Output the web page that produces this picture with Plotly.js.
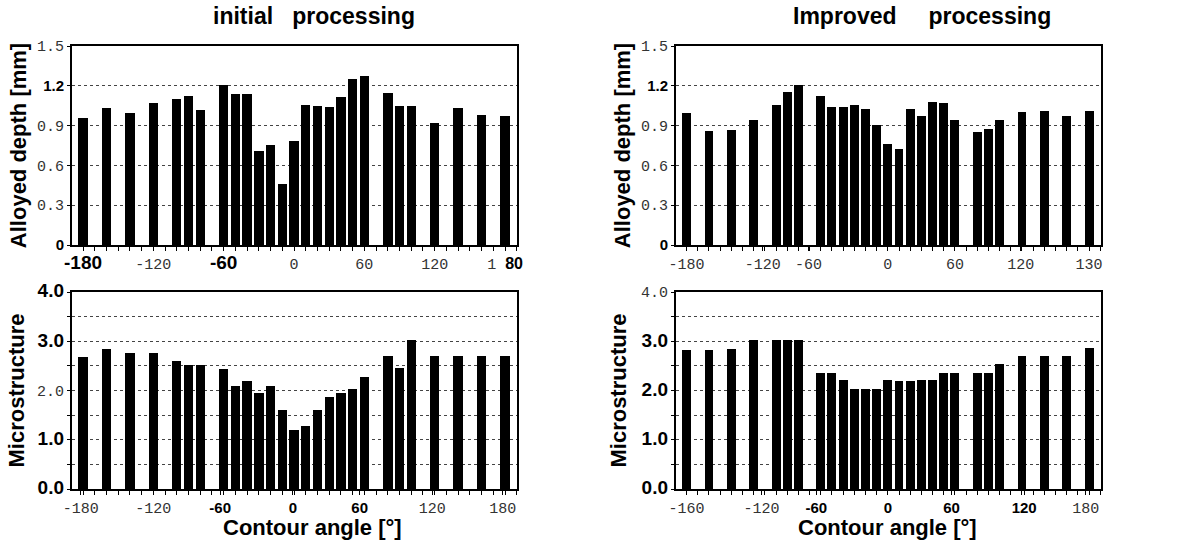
<!DOCTYPE html>
<html>
<head>
<meta charset="utf-8">
<script src="https://cdn.plot.ly/plotly-3.0.1.min.js"></script>
<style>html,body{margin:0;padding:0;background:#fff;}#chart{width:1177px;height:546px;}</style>
</head>
<body>
<div id="chart"></div>
<script>
// ---- data ----
const angles = [-180,-160,-140,-120,-100,-90,-80,-60,-50,-40,-30,-20,-10,0,10,20,30,40,50,60,80,90,100,120,140,160,180];
const depthInitial  = [0.96,1.035,0.995,1.07,1.10,1.12,1.02,1.205,1.14,1.14,0.705,0.754,0.457,0.787,1.058,1.046,1.038,1.117,1.249,1.277,1.147,1.051,1.051,0.919,1.033,0.982,0.972];
const microInitial  = [2.685,2.84,2.77,2.77,2.59,2.52,2.52,2.44,2.10,2.20,1.94,2.10,1.61,1.19,1.27,1.61,1.86,1.94,2.03,2.28,2.70,2.45,3.03,2.70,2.70,2.70,2.70];
const depthImproved = [0.995,0.86,0.865,0.94,1.054,1.156,1.207,1.122,1.04,1.04,1.054,1.026,0.906,0.758,0.72,1.026,0.974,1.077,1.071,0.94,0.855,0.872,0.94,1.003,1.008,0.974,1.008];
const microImproved = [2.83,2.83,2.85,3.02,3.02,3.02,3.02,2.36,2.36,2.21,2.04,2.03,2.03,2.21,2.20,2.20,2.21,2.21,2.36,2.36,2.36,2.36,2.54,2.70,2.70,2.70,2.87];

// tick labels as printed in the figure
const xTickValsTL = [-180,-120,-60,0,60,120,180];
const xTickTextTL = ["-180","-120","-60","0","60","120","1 80"];
const xTickValsBL = [-182,-120,-63,-1,56,118,178];
const xTickTextBL = ["-180","-120","-60","0","60","120","180"];
const xTickValsTR = [-180,-112,-71,0,60,119,180];
const xTickTextTR = ["-180","-120","-60","0","60","120","130"];
const xTickValsBR = [-180,-113,-64,0,57,122,177];
const xTickTextBR = ["-160","-120","-60","0","60","120","180"];
const yTickValsTop = [0,0.3,0.6,0.9,1.2,1.5];
const yTickTextTop = ["0","0.3","0.6","0.9","1.2","1.5"];
const yTickValsBot = [0,1,2,3,4];
const yTickTextBot = ["0.0","1.0","2.0","3.0","4.0"];

// typeface per label (b = bold sans, B = large bold sans, m = mono, s = split "1 80") -- styling only
const styTL = ["B","m","B","m","m","m","s"];
const styBL = ["m","m","b","b","b","m","m"];
const styTR = ["m","m","m","m","m","m","m"];
const styBR = ["m","m","b","b","b","b","m"];
const styYT = ["b","m","m","m","b","m"];
const styYBL = ["B","B","m","B","B"];
const styYBR = ["B","B","B","B","m"];

const MONO = 'font-family:Liberation Mono;font-weight:normal;fill:#333;';
function fmt(texts, sty){
  return texts.map((t,i)=>{
    const s = sty[i];
    if (s==="m") return '<span style="'+MONO+'font-size:15px">'+t+'</span>';
    if (s==="B") return '<span style="font-size:19px">'+t+'</span>';
    if (s==="s") { const p = t.split(" "); return '<span style="'+MONO+'font-size:15px">'+p[0]+'\u00a0</span><span style="font-size:16px">'+p[1]+'</span>'; }
    return t;
  });
}

const W = 1177, H = 546;
const px = v => v / W;
const py = v => 1 - v / H;

const tickFont = {family:"Liberation Sans, Arial, sans-serif", size:15, color:"#000", weight:"bold"};
const titleFont = {family:"Liberation Sans, Arial, sans-serif", size:22, color:"#000", weight:"bold"};
const headFont = {family:"Liberation Sans, Arial, sans-serif", size:23, color:"#000", weight:"bold"};

function xAxis(dom, anchor, vals, texts, sty, range){
  return {domain:dom, anchor:anchor, range:range, tickmode:"array", tickvals:vals,
    ticktext:fmt(texts,sty), tickfont:tickFont, ticks:"outside", ticklen:4, tickcolor:"#000",
    showgrid:false, zeroline:false, showline:true, mirror:true, linecolor:"#000", linewidth:2,
    minor:{tickmode:"linear", tick0:0, dtick:10, ticks:"outside", ticklen:4, tickcolor:"#000", showgrid:false},
    fixedrange:true};
}
function yAxis(dom, anchor, vals, texts, sty, range, minorStep, title, standoff){
  const ax = {domain:dom, anchor:anchor, range:range, tickmode:"array", tickvals:vals,
    ticktext:fmt(texts,sty), tickfont:tickFont, ticks:"outside", ticklen:3, tickcolor:"#000",
    showgrid:true, gridcolor:"#444", griddash:"dot", gridwidth:1,
    zeroline:false, showline:true, mirror:true, linecolor:"#000", linewidth:2,
    title:{text:title, font:titleFont, standoff:standoff}, fixedrange:true};
  if (minorStep) ax.minor = {tickmode:"linear", tick0:0, dtick:minorStep, ticks:"outside", ticklen:3, tickcolor:"#000",
    showgrid:true, gridcolor:"#444", griddash:"dot", gridwidth:1};
  return ax;
}

const xL = [px(72), px(517)], xR = [px(676), px(1101)];
const yT = [py(245), py(46)], yB = [py(489), py(292)];
const rangeL = [-189.4, 190.2], rangeR = [-189.5, 190.7];

function bars(y, xa, ya){
  return {type:"bar", x:angles, y:y, xaxis:xa, yaxis:ya, width:8,
    marker:{color:"#000", line:{width:0}}, showlegend:false, hoverinfo:"x+y"};
}

const data = [
  bars(depthInitial, "x", "y"),
  bars(microInitial, "x2", "y2"),
  bars(depthImproved, "x3", "y3"),
  bars(microImproved, "x4", "y4")
];

const layout = {
  width:W, height:H, margin:{l:0,r:0,t:0,b:0},
  paper_bgcolor:"#fff", plot_bgcolor:"#fff", showlegend:false, bargap:0,
  xaxis:  xAxis(xL, "y",  xTickValsTL, xTickTextTL, styTL, rangeL),
  yaxis:  yAxis(yT, "x",  yTickValsTop, yTickTextTop, styYT, [0,1.5], null, "Alloyed depth [mm]", 4),
  xaxis2: xAxis(xL, "y2", xTickValsBL, xTickTextBL, styBL, rangeL),
  yaxis2: yAxis(yB, "x2", yTickValsBot, yTickTextBot, styYBL, [0,4], 0.5, "Microstructure", 6),
  xaxis3: xAxis(xR, "y3", xTickValsTR, xTickTextTR, styTR, rangeR),
  yaxis3: yAxis(yT, "x3", yTickValsTop, yTickTextTop, styYT, [0,1.5], null, "Alloyed depth [mm]", 4),
  xaxis4: xAxis(xR, "y4", xTickValsBR, xTickTextBR, styBR, rangeR),
  yaxis4: yAxis(yB, "x4", yTickValsBot, yTickTextBot, styYBR, [0,4], 0.5, "Microstructure", 8),
  annotations:[
    {text:"initial\u00a0\u00a0 processing", x:px(314), y:py(16), xref:"paper", yref:"paper", showarrow:false, font:headFont, xanchor:"center", yanchor:"middle"},
    {text:"Improved\u00a0\u00a0\u00a0\u00a0 processing", x:px(922), y:py(16), xref:"paper", yref:"paper", showarrow:false, font:headFont, xanchor:"center", yanchor:"middle"},
    {text:"Contour angle [°]", x:px(312), y:py(527), xref:"paper", yref:"paper", showarrow:false, font:titleFont, xanchor:"center", yanchor:"middle"},
    {text:"Contour angle [°]", x:px(887), y:py(527), xref:"paper", yref:"paper", showarrow:false, font:titleFont, xanchor:"center", yanchor:"middle"}
  ]
};

Plotly.newPlot("chart", data, layout, {staticPlot:true, displayModeBar:false});
</script>
</body>
</html>
